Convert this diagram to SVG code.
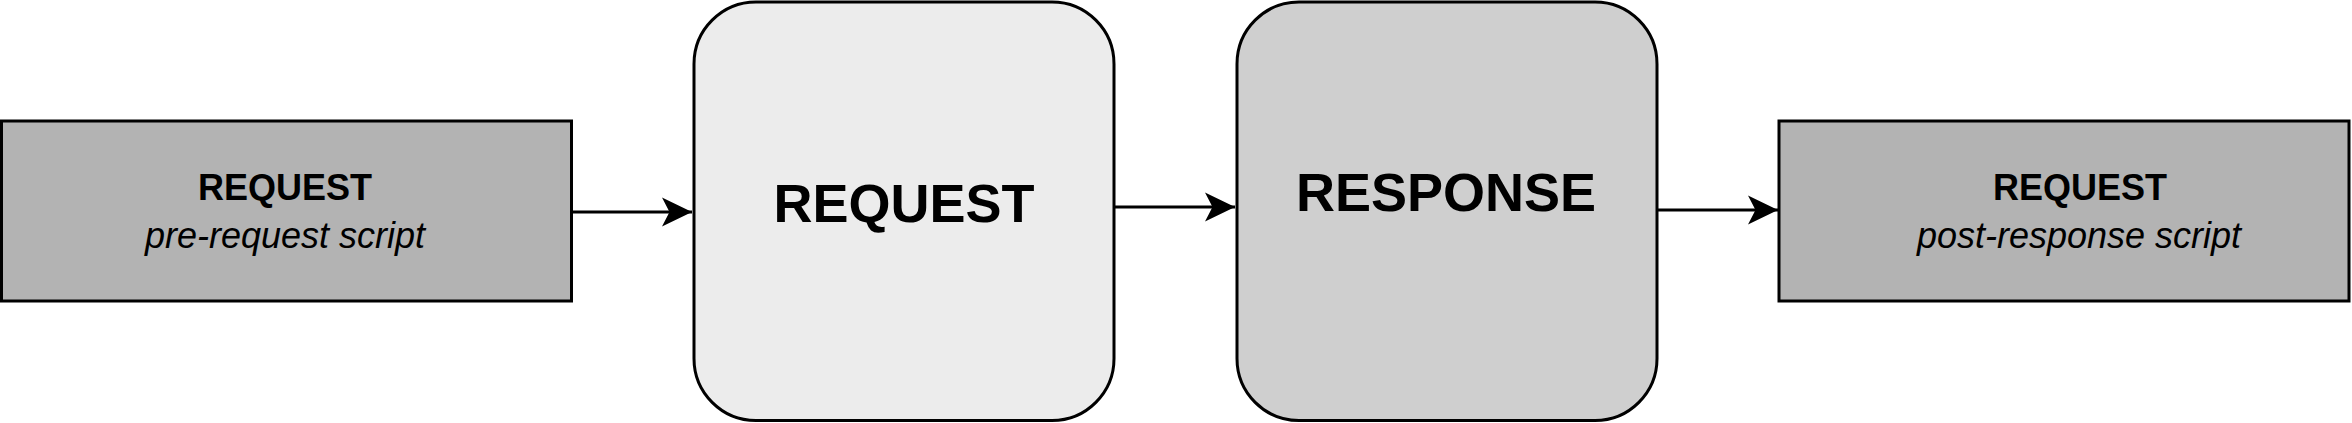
<svg xmlns="http://www.w3.org/2000/svg" width="2352" height="423" viewBox="0 0 2352 423">
  <style>
    .box { stroke: #000; stroke-width: 3; }
    .t { font-family: "Liberation Sans", Arial, Helvetica, sans-serif; fill: #000; text-anchor: middle; }
    .b { font-weight: bold; }
    .i { font-style: italic; }
    .conn { stroke: #000; stroke-width: 3; fill: none; }
  </style>
  <defs>
    <marker id="arrow" markerUnits="userSpaceOnUse" markerWidth="30" markerHeight="30" viewBox="0 0 28 28" refX="28" refY="14" orient="auto">
      <path d="M28 14 L0 0.5 L7 14 L0 27.5 Z" fill="#000"/>
    </marker>
  </defs>
  <rect width="2352" height="423" fill="#fff"/>
  <g id="node-pre-request">
    <rect class="box" x="1.5" y="121" width="570" height="180" fill="#b3b3b3"/>
    <text class="t b" x="285" y="200" font-size="36">REQUEST</text>
    <text class="t i" x="285" y="248" font-size="36">pre-request script</text>
  </g>
  <g id="node-request">
    <rect class="box" x="694" y="2" width="420" height="418.5" rx="62" ry="62" fill="#ececec"/>
    <text class="t b" x="904" y="222" font-size="54">REQUEST</text>
  </g>
  <g id="node-response">
    <rect class="box" x="1237" y="2" width="420" height="418.5" rx="62" ry="62" fill="#cfcfcf"/>
    <text class="t b" x="1446" y="211" font-size="54">RESPONSE</text>
  </g>
  <g id="node-post-response">
    <rect class="box" x="1779" y="121" width="570" height="180" fill="#b3b3b3"/>
    <text class="t b" x="2080" y="200" font-size="36">REQUEST</text>
    <text class="t i" x="2079" y="248" font-size="36">post-response script</text>
  </g>
  <g id="connectors">
    <path class="conn" d="M572 212 L692 212" marker-end="url(#arrow)"/>
    <path class="conn" d="M1115 207 L1235 207" marker-end="url(#arrow)"/>
    <path class="conn" d="M1658 210 L1778 210" marker-end="url(#arrow)"/>
  </g>
</svg>
